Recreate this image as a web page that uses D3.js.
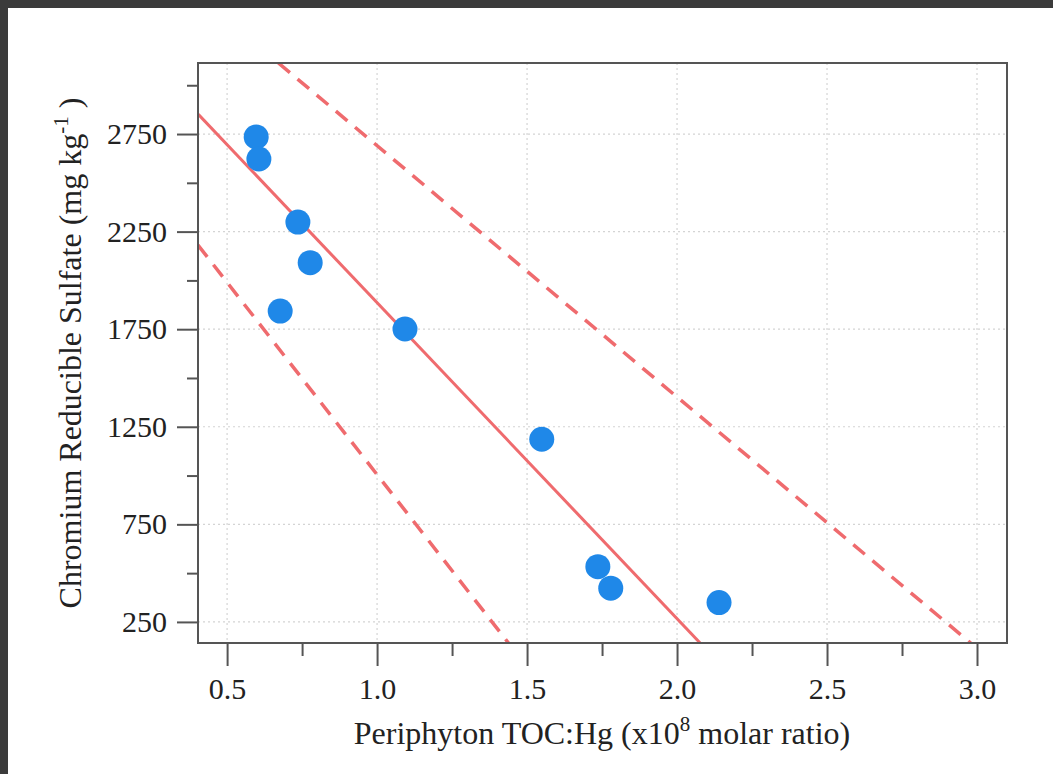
<!DOCTYPE html>
<html>
<head>
<meta charset="utf-8">
<script src="https://cdn.jsdelivr.net/npm/d3@7"></script>
<style>
  html, body { margin: 0; padding: 0; background: #3b3b3b; }
  svg { display: block; }
</style>
</head>
<body>
<script>
// ---- data ----
const xValues = [0.597, 0.606, 0.736, 0.777, 0.677, 1.093, 1.549, 1.736, 1.779, 2.140];
const yValues = [2735, 2622, 2299, 2091, 1843, 1751, 1186, 533, 423, 349];
const fitLine = [[0.404, 2851], [2.077, 142]];
const upperBand = [[0.671, 3114], [2.979, 142]];
const lowerBand = [[0.403, 2181], [1.438, 142]];
const xTicks = [0.5, 1.0, 1.5, 2.0, 2.5, 3.0];
const xMinorTicks = [0.75, 1.25, 1.75, 2.25, 2.75];
const yTicks = [250, 750, 1250, 1750, 2250, 2750];
const yMinorTicks = [500, 1000, 1500, 2000, 2500, 3000];
const xDomain = [0.403, 3.1];
const yDomain = [142, 3114];

const W = 1053, H = 774;
const panel = { x: 8, y: 8 };
const m = { left: 198, top: 63, right: 1007, bottom: 643 };

const svg = d3.select("body").append("svg").attr("width", W).attr("height", H);
svg.append("rect").attr("width", W).attr("height", H).attr("fill", "#3b3b3b");
svg.append("rect").attr("x", panel.x).attr("y", panel.y).attr("width", W - panel.x).attr("height", H - panel.y).attr("fill", "#ffffff");

const x = d3.scaleLinear().domain(xDomain).range([m.left, m.right]);
const y = d3.scaleLinear().domain(yDomain).range([m.bottom, m.top]);

const font = "'Liberation Serif', 'Times New Roman', serif";
const axisColor = "#555555";

svg.append("defs").append("clipPath").attr("id", "clip")
  .append("rect").attr("x", m.left).attr("y", m.top)
  .attr("width", m.right - m.left).attr("height", m.bottom - m.top);

// grid
const grid = svg.append("g");
grid.selectAll("line.gx").data(xTicks).join("line")
  .attr("x1", d => x(d)).attr("x2", d => x(d))
  .attr("y1", m.top).attr("y2", m.bottom)
  .attr("stroke", "#d4d4d4").attr("stroke-width", 1.2).attr("stroke-dasharray", "2,3");
grid.selectAll("line.gy").data(yTicks).join("line")
  .attr("y1", d => y(d)).attr("y2", d => y(d))
  .attr("x1", m.left).attr("x2", m.right)
  .attr("stroke", "#d4d4d4").attr("stroke-width", 1.2).attr("stroke-dasharray", "2,3");

// lines
const lineGen = d3.line().x(d => x(d[0])).y(d => y(d[1]));
const lc = "#ef6b6e";
const lg = svg.append("g").attr("clip-path", "url(#clip)");
lg.append("path").datum(fitLine).attr("d", lineGen)
  .attr("fill", "none").attr("stroke", lc).attr("stroke-width", 3);
[upperBand, lowerBand].forEach(b => {
  lg.append("path").datum(b).attr("d", lineGen)
    .attr("fill", "none").attr("stroke", lc).attr("stroke-width", 3.5)
    .attr("stroke-dasharray", "15,10");
});

// points
svg.append("g").selectAll("circle").data(xValues.map((v, i) => [v, yValues[i]])).join("circle")
  .attr("cx", d => x(d[0])).attr("cy", d => y(d[1])).attr("r", 12.5)
  .attr("fill", "#1f88e8");

// axes
const xAxis = d3.axisBottom(x).tickValues(xTicks).tickFormat(d3.format(".1f")).tickSize(23).tickPadding(12);
const xAxisMinor = d3.axisBottom(x).tickValues(xMinorTicks).tickFormat("").tickSize(13);
const yAxis = d3.axisLeft(y).tickValues(yTicks).tickFormat(d3.format("d")).tickSize(21).tickPadding(10);
const yAxisMinor = d3.axisLeft(y).tickValues(yMinorTicks).tickFormat("").tickSize(11);

function styleAxis(g) {
  g.select(".domain").remove();
  g.selectAll("line").attr("stroke", axisColor).attr("stroke-width", 2);
  g.selectAll("text").attr("fill", "#222").style("font-family", font).style("font-size", "30px");
}
svg.append("g").attr("transform", `translate(0,${m.bottom})`).call(xAxis).call(styleAxis);
svg.append("g").attr("transform", `translate(0,${m.bottom})`).call(xAxisMinor).call(styleAxis);
svg.append("g").attr("transform", `translate(${m.left},0)`).call(yAxis).call(styleAxis);
svg.append("g").attr("transform", `translate(${m.left},0)`).call(yAxisMinor).call(styleAxis);

// frame
svg.append("rect").attr("x", m.left).attr("y", m.top)
  .attr("width", m.right - m.left).attr("height", m.bottom - m.top)
  .attr("fill", "none").attr("stroke", axisColor).attr("stroke-width", 2);

// titles
const xt = svg.append("text").attr("x", 602).attr("y", 744)
  .attr("text-anchor", "middle").attr("fill", "#222")
  .style("font-family", font).style("font-size", "32px");
xt.append("tspan").text("Periphyton TOC:Hg (x10");
xt.append("tspan").attr("dy", -13).style("font-size", "21px").text("8");
xt.append("tspan").attr("dy", 13).text(" molar ratio)");

const yt = svg.append("text").attr("transform", `translate(81,353) rotate(-90)`)
  .attr("text-anchor", "middle").attr("fill", "#222")
  .style("font-family", font).style("font-size", "32px");
yt.append("tspan").text("Chromium Reducible Sulfate (mg kg");
yt.append("tspan").attr("dy", -13).style("font-size", "21px").text("-1");
yt.append("tspan").attr("dy", 13).text(" )");
</script>
</body>
</html>
